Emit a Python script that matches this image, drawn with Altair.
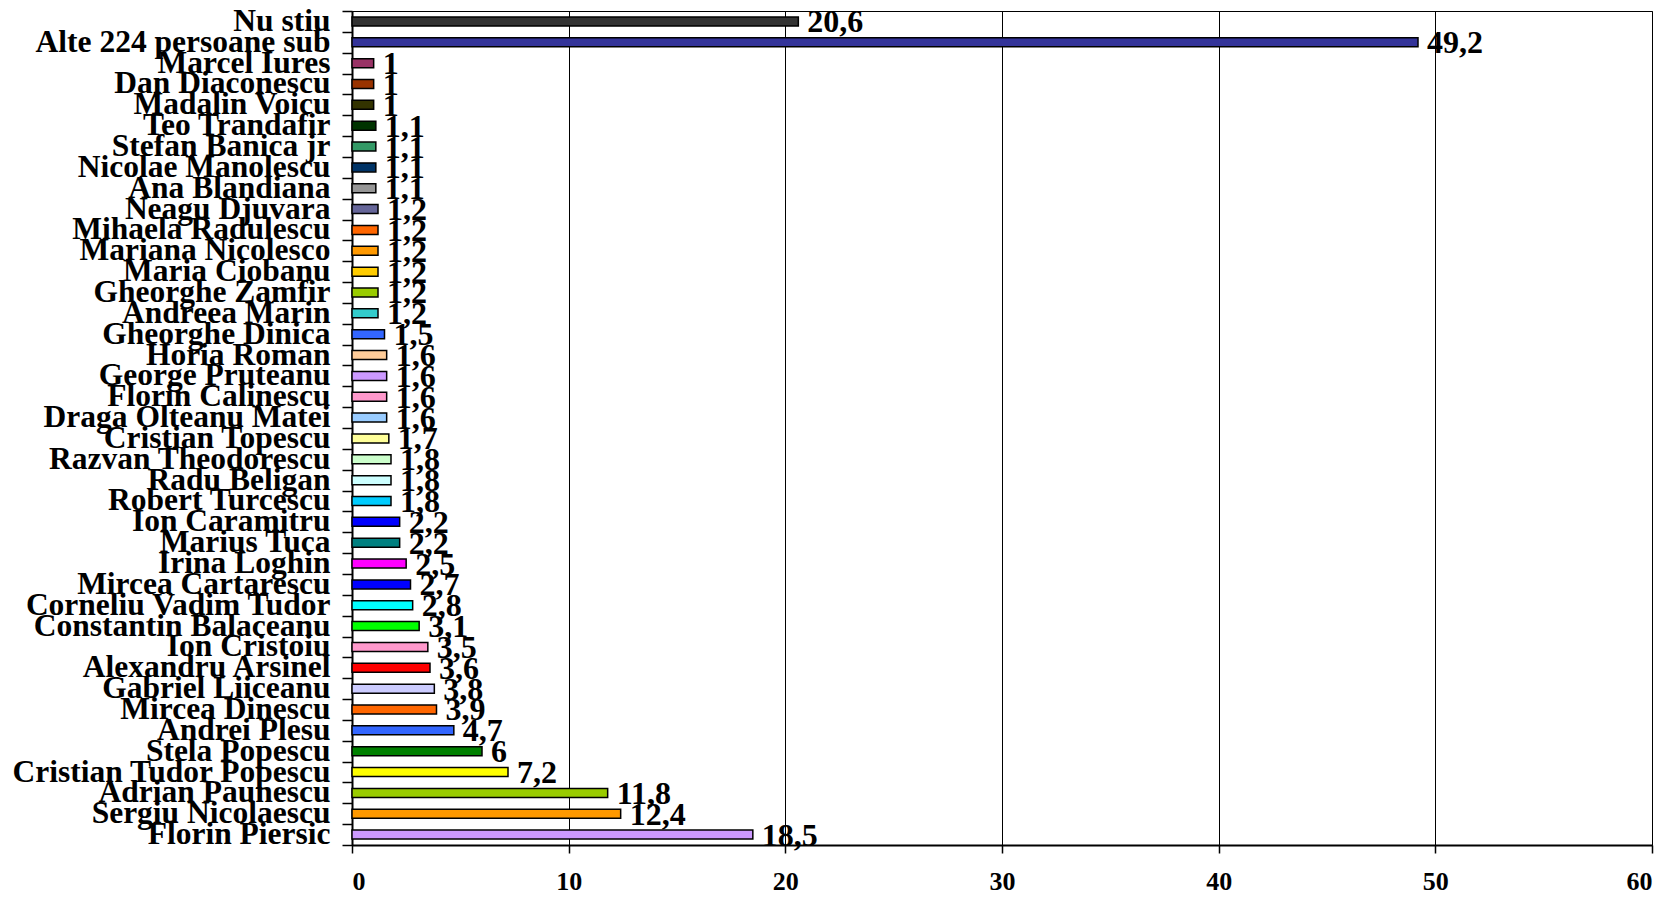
import altair as alt
import pandas as pd

names = [
    "Nu stiu", "Alte 224 persoane sub", "Marcel Iures", "Dan Diaconescu", "Madalin Voicu",
    "Teo Trandafir", "Stefan Banica jr", "Nicolae Manolescu", "Ana Blandiana", "Neagu Djuvara",
    "Mihaela Radulescu", "Mariana Nicolesco", "Maria Ciobanu", "Gheorghe Zamfir", "Andreea Marin",
    "Gheorghe Dinica", "Horia Roman", "George Pruteanu", "Florin Calinescu", "Draga Olteanu Matei",
    "Cristian Topescu", "Razvan Theodorescu", "Radu Beligan", "Robert Turcescu", "Ion Caramitru",
    "Marius Tuca", "Irina Loghin", "Mircea Cartarescu", "Corneliu Vadim Tudor", "Constantin Balaceanu",
    "Ion Cristoiu", "Alexandru Arsinel", "Gabriel Liiceanu", "Mircea Dinescu", "Andrei Plesu",
    "Stela Popescu", "Cristian Tudor Popescu", "Adrian Paunescu", "Sergiu Nicolaescu", "Florin Piersic",
]
values = [
    20.6, 49.2, 1, 1, 1,
    1.1, 1.1, 1.1, 1.1, 1.2,
    1.2, 1.2, 1.2, 1.2, 1.2,
    1.5, 1.6, 1.6, 1.6, 1.6,
    1.7, 1.8, 1.8, 1.8, 2.2,
    2.2, 2.5, 2.7, 2.8, 3.1,
    3.5, 3.6, 3.8, 3.9, 4.7,
    6, 7.2, 11.8, 12.4, 18.5,
]
colors = [
    "#333333", "#333399", "#993366", "#993300", "#333300",
    "#003300", "#339966", "#003366", "#969696", "#666699",
    "#FF6600", "#FF9900", "#FFCC00", "#99CC00", "#33CCCC",
    "#3366FF", "#FFCC99", "#CC99FF", "#FF99CC", "#99CCFF",
    "#FFFF99", "#CCFFCC", "#CCFFFF", "#00CCFF", "#0000FF",
    "#008080", "#FF00FF", "#0000FF", "#00FFFF", "#00FF00",
    "#FF99CC", "#FF0000", "#CCCCFF", "#FF6600", "#3366FF",
    "#008000", "#FFFF00", "#99CC00", "#FF9900", "#CC99FF",
]
labels = [f"{v:g}".replace(".", ",") for v in values]
x_ticks = [0, 10, 20, 30, 40, 50, 60]

df = pd.DataFrame({"name": names, "value": values, "color": colors, "label": labels})

FONT = "Liberation Serif"

y_enc = alt.Y(
    "name:N",
    sort=names,
    scale=alt.Scale(paddingInner=0, paddingOuter=0),
    axis=alt.Axis(
        title=None,
        labelFont=FONT,
        labelFontSize=31.5,
        labelFontWeight="bold",
        labelColor="black",
        labelLimit=600,
        labelPadding=12,
        labelOverlap=False,
        tickSize=10,
        tickColor="black",
        tickWidth=1.5,
        tickBand="extent",
        tickExtra=True,
        domainColor="black",
        domainWidth=2,
        grid=False,
    ),
)
x_enc = alt.X(
    "value:Q",
    scale=alt.Scale(domain=[0, 60], nice=False),
    axis=alt.Axis(
        values=x_ticks,
        title=None,
        labelFont=FONT,
        labelFontSize=26,
        labelFontWeight="bold",
        labelColor="black",
        labelPadding=15,
        tickSize=8,
        tickColor="black",
        tickWidth=1.5,
        grid=True,
        gridColor="black",
        gridOpacity=1,
        gridWidth=1,
        domainColor="black",
        domainWidth=2,
    ),
)

base = alt.Chart(df).encode(x=x_enc, y=y_enc)

bars = base.mark_bar(size=9, stroke="black", strokeWidth=1.5).encode(
    color=alt.Color("color:N", scale=None)
)
text = base.mark_text(
    align="left", baseline="middle", dx=9, dy=1,
    font=FONT, fontSize=32, fontWeight="bold", color="black",
).encode(text="label:N")

chart = (
    (bars + text)
    .properties(
        width=1300,
        height=834,
        autosize=alt.AutoSizeParams(type="none"),
        padding={"left": 344, "top": 3, "right": 7, "bottom": 50},
        background="white",
    )
    .configure_view(stroke="black", strokeWidth=1)
)

chart.save("out.html", embed_options={"renderer": "svg", "actions": False})
